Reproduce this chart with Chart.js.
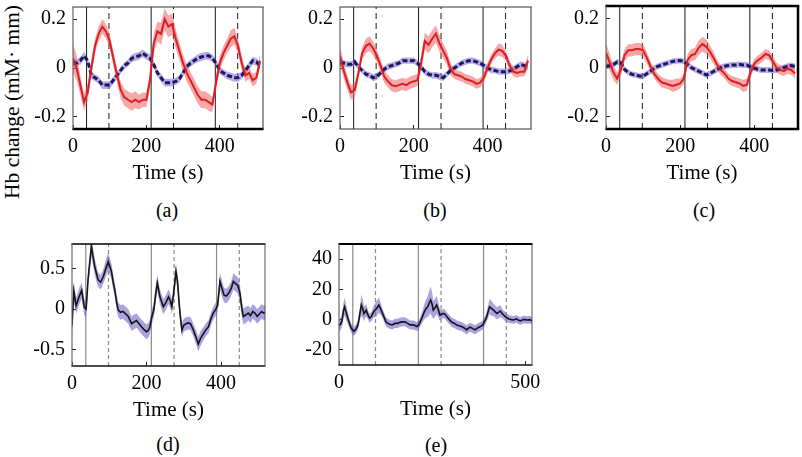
<!DOCTYPE html>
<html><head><meta charset="utf-8">
<script src="https://cdn.jsdelivr.net/npm/chart.js@4.4.1/dist/chart.umd.min.js"></script>
<style>
html,body{margin:0;padding:0;width:802px;height:457px;overflow:hidden;background:#fff;position:relative;}
canvas{position:absolute;}
.lbl{position:absolute;font-family:"Liberation Serif","Times New Roman",serif;color:#000;white-space:nowrap;line-height:1;transform:translate(-50%,-50%);}
</style></head><body>
<div class="lbl" style="left:13px;top:102px;font-size:21.5px;transform:translate(-50%,-50%) rotate(-90deg);">Hb change (mM· mm)</div>
<div class="lbl" style="left:167px;top:210px;font-size:20px;">(a)</div>
<div class="lbl" style="left:435px;top:210px;font-size:20px;">(b)</div>
<div class="lbl" style="left:704px;top:210px;font-size:20px;">(c)</div>
<div class="lbl" style="left:168px;top:444px;font-size:20px;">(d)</div>
<div class="lbl" style="left:436px;top:445px;font-size:20px;">(e)</div>
<canvas id="ca"></canvas><canvas id="cb"></canvas><canvas id="cc"></canvas><canvas id="cd"></canvas><canvas id="ce"></canvas>
<script>
// ---------------- data ----------------
const timeABC = [0,10,20,30,40,50,60,70,80,90,100,110,120,130,140,150,160,170,180,190,200,210,220,230,240,250,260,270,280,290,300,310,320,330,340,350,360,370,380,390,400,410,420,430,440,450,460,470,480,490,500,510];
const onsets = [37, 213, 388];
const offsets = [98, 274, 449];

const redA = [0.04,0.00,-0.07,-0.14,-0.10,0.00,0.09,0.14,0.17,0.15, 0.11,0.04,-0.03,-0.09,-0.12,-0.13,-0.14,-0.13,-0.14,-0.13, -0.13,-0.05,0.10,0.15,0.14,0.20,0.17,0.18,0.12,0.07, 0.02,-0.02,-0.05,-0.08,-0.11,-0.13,-0.13,-0.14,-0.15,-0.06, 0.02,0.06,0.09,0.12,0.13,0.09,0.02,-0.03,-0.02,-0.05, -0.04,0.03];
const errRedA = [0.06,0.05,0.04,0.035,0.035,0.035,0.03,0.03,0.03,0.03, 0.03,0.03,0.03,0.035,0.035,0.035,0.035,0.035,0.03,0.03, 0.03,0.035,0.04,0.04,0.045,0.045,0.045,0.045,0.04,0.035, 0.035,0.035,0.035,0.035,0.035,0.035,0.035,0.035,0.03,0.03, 0.03,0.03,0.03,0.035,0.035,0.03,0.03,0.025,0.025,0.025, 0.025,0.025];
const blueA = [0.02,0.02,0.03,0.05,0.03,-0.03,-0.04,-0.05,-0.07,-0.07, -0.07,-0.05,-0.03,-0.01,0.01,0.02,0.04,0.045,0.05,0.06, 0.05,0.04,0.015,-0.02,-0.04,-0.06,-0.06,-0.06,-0.055,-0.045, -0.02,0.005,0.02,0.03,0.04,0.045,0.05,0.05,0.04,0.02, -0.01,-0.02,-0.03,-0.035,-0.04,-0.04,-0.03,-0.01,0.01,0.03, 0.025,0.01];
const errBlueA = [0.015,0.015,0.016,0.016,0.015,0.015,0.014,0.015,0.016,0.016, 0.016,0.015,0.015,0.014,0.014,0.015,0.015,0.016,0.016,0.016, 0.016,0.015,0.015,0.015,0.016,0.016,0.016,0.016,0.015,0.015, 0.014,0.014,0.015,0.015,0.016,0.016,0.016,0.016,0.015,0.015, 0.015,0.015,0.016,0.016,0.016,0.016,0.015,0.015,0.015,0.016, 0.016,0.016];

const redB = [0.05,-0.01,-0.06,-0.10,-0.09,-0.02,0.06,0.09,0.10,0.08, 0.05,0.01,-0.035,-0.055,-0.07,-0.075,-0.07,-0.065,-0.07,-0.06, -0.055,-0.05,0.02,0.11,0.095,0.12,0.14,0.10,0.07,0.04, -0.005,-0.025,-0.03,-0.035,-0.045,-0.05,-0.055,-0.065,-0.06,-0.04, 0.0,0.035,0.06,0.075,0.07,0.05,0.01,-0.015,-0.02,-0.015, -0.015,0.03];
const errRedB = [0.04,0.03,0.03,0.03,0.03,0.025,0.025,0.03,0.03,0.03, 0.025,0.025,0.025,0.025,0.025,0.025,0.025,0.025,0.025,0.025, 0.025,0.025,0.03,0.035,0.035,0.035,0.035,0.035,0.03,0.03, 0.025,0.02,0.02,0.02,0.02,0.02,0.02,0.02,0.02,0.02, 0.02,0.02,0.02,0.025,0.025,0.02,0.02,0.02,0.02,0.02, 0.02,0.025];
const blueB = [0.02,0.02,0.015,0.015,0.025,0.005,-0.01,-0.025,-0.03,-0.04, -0.035,-0.02,-0.005,0.005,0.01,0.015,0.02,0.03,0.03,0.03, 0.03,0.02,0.005,-0.015,-0.025,-0.03,-0.03,-0.035,-0.04,-0.025, -0.01,0.0,0.01,0.02,0.025,0.03,0.03,0.025,0.02,0.01, 0.0,-0.007,-0.01,-0.015,-0.015,-0.015,-0.012,-0.005,0.005,0.015, 0.01,0.005];
const errBlueB = [0.013,0.013,0.013,0.013,0.013,0.013,0.013,0.013,0.013,0.014, 0.014,0.013,0.013,0.013,0.013,0.013,0.013,0.013,0.013,0.013, 0.013,0.013,0.013,0.013,0.013,0.013,0.014,0.014,0.013,0.013, 0.013,0.013,0.013,0.013,0.013,0.013,0.013,0.013,0.013,0.013, 0.013,0.013,0.013,0.013,0.013,0.013,0.013,0.013,0.013,0.013, 0.013,0.013];

const redC = [0.06,0.02,-0.02,-0.045,-0.01,0.05,0.07,0.07,0.075,0.075, 0.07,0.04,0.005,-0.025,-0.045,-0.06,-0.065,-0.07,-0.075,-0.07, -0.065,-0.045,0.03,0.05,0.055,0.08,0.095,0.085,0.065,0.04, 0.01,-0.01,-0.025,-0.045,-0.055,-0.06,-0.065,-0.075,-0.07,-0.02, 0.015,0.03,0.04,0.055,0.05,0.025,0.0,-0.01,-0.015,-0.005, -0.01,-0.025];
const errRedC = [0.04,0.035,0.03,0.025,0.025,0.025,0.025,0.025,0.025,0.025, 0.025,0.025,0.02,0.02,0.02,0.02,0.02,0.02,0.025,0.025, 0.02,0.02,0.025,0.025,0.025,0.03,0.03,0.03,0.025,0.025, 0.02,0.02,0.02,0.02,0.02,0.02,0.02,0.025,0.025,0.02, 0.02,0.02,0.02,0.02,0.02,0.02,0.02,0.02,0.02,0.02, 0.02,0.02];
const blueC = [0.005,0.008,0.012,0.022,0.02,-0.008,-0.02,-0.028,-0.03,-0.035, -0.036,-0.025,-0.015,-0.003,0.005,0.01,0.015,0.02,0.025,0.027, 0.028,0.025,0.012,0.0,-0.008,-0.015,-0.022,-0.03,-0.025,-0.016, -0.008,0.0,0.005,0.008,0.01,0.01,0.012,0.01,0.01,0.003, -0.003,-0.007,-0.01,-0.01,-0.01,-0.012,-0.01,-0.006,0.0,0.005, 0.008,0.004];
const errBlueC = [0.012,0.012,0.012,0.012,0.012,0.012,0.012,0.012,0.012,0.012, 0.012,0.012,0.012,0.012,0.012,0.012,0.012,0.012,0.012,0.012, 0.012,0.012,0.012,0.012,0.012,0.012,0.012,0.012,0.012,0.012, 0.012,0.012,0.012,0.012,0.012,0.012,0.012,0.012,0.012,0.012, 0.012,0.012,0.012,0.012,0.012,0.012,0.012,0.012,0.012,0.012, 0.012,0.012];

const timeD = [0,5,11,18,26,33,38,43,52,61,70,77,84,91,97,102,106,111,115,120,124,130,137,144,151,156,160,166,173,180,187,193,200,205,209,214,220,225,229,236,245,252,259,264,268,273,279,283,287,291,295,300,306,312,318,326,333,339,345,353,360,366,373,379,386,391,397,403,408,414,420,427,433,440,445,451,456,460,467,473,479,485,491,497,503,509,515,518];
const valD = [-0.2,0.22,0.04,0.14,0.23,0.02,0.0,0.36,0.77,0.52, 0.36,0.33,0.40,0.50,0.58,0.52,0.46,0.32,0.23,0.08, -0.01,-0.04,-0.03,-0.06,-0.09,-0.14,-0.18,-0.16,-0.14,-0.18, -0.22,-0.25,-0.28,-0.26,-0.22,-0.10,0.0,0.20,0.32,0.15, 0.03,0.08,0.15,0.10,0.03,0.20,0.46,0.35,0.10,-0.10, -0.26,-0.20,-0.18,-0.17,-0.18,-0.26,-0.35,-0.43,-0.36,-0.30, -0.25,-0.22,-0.12,-0.05,0.0,0.05,0.34,0.25,0.17,0.16, 0.19,0.25,0.34,0.31,0.29,0.19,0.0,-0.09,-0.07,-0.05, -0.08,-0.03,-0.05,-0.09,-0.06,-0.03,-0.05,-0.04];
const errD = [0.1,0.12,0.1,0.1,0.1,0.1,0.1,0.1,0.12,0.1, 0.09,0.09,0.09,0.1,0.11,0.1,0.1,0.09,0.09,0.09, 0.09,0.09,0.09,0.09,0.09,0.09,0.09,0.09,0.09,0.09, 0.09,0.09,0.09,0.09,0.09,0.09,0.09,0.1,0.1,0.09, 0.09,0.09,0.09,0.09,0.09,0.09,0.1,0.1,0.09,0.09, 0.09,0.08,0.08,0.08,0.08,0.08,0.09,0.09,0.09,0.08, 0.08,0.08,0.08,0.08,0.08,0.08,0.1,0.1,0.09,0.09, 0.09,0.09,0.1,0.1,0.1,0.1,0.1,0.1,0.1,0.09, 0.09,0.09,0.09,0.09,0.09,0.09,0.09,0.09];

const timeE = [0,4,8,12,15,19,24,29,33,40,46,51,56,60,64,67,70,73,78,82,87,93,100,107,112,117,122,126,131,136,143,150,157,163,170,177,184,191,200,209,214,218,224,229,233,238,242,246,250,253,258,262,266,271,276,280,285,289,296,303,310,316,322,329,336,343,348,352,358,365,372,379,386,391,395,400,404,409,415,420,424,429,433,438,442,449,456,463,469,476,482,487,494,500,505,512,518];
const valE = [-4,-3,-1,6,8.5,5,0.8,-3,-5.7,-7.9, -6,-3.5,4,9.6,7,4,5,6.3,3,1, 2,5.2,7,9.6,7,4,1,-1.4,-2.5,-3, -3.5,-2.5,-2.5,-1.8,-1.5,-1.4,-2.5,-3.5,-3.5,-4.6, -3.5,-1.4,2,5.2,7,8.5,11,12.9,10,6.3, 8,9.6,7,3,3.5,4.1,3.5,2,0,-1.8, -2.5,-3.5,-4,-4.6,-5.5,-6.8,-5.5,-5,-5.8,-6.8, -5.5,-4.6,-3.5,-1,0.8,5,8.5,7.5,6.3,5, 4.1,5,5.6,4,3,1.5,0.4,0,-0.2,0.5, -0.5,-0.9,0,0,-0.2,0,-0.9];
const errE = [4,4,4,5,6,5,4,3,3,3, 3,3,4,7,6,5,4,4,3,3, 3,4,5,5,4,3,3,3,3,3, 3,3,3,3,3,3,3,3,3,3, 3,3,4,5,6,7,8,9,8,6, 6,6,5,4,3,3,3,3,3,3, 3,3,3,3,3,3,3,3,3,3, 3,3,3,3,3,4,5,5,4,4, 4,4,4,3,3,3,2.5,2.5,2.5,2.5, 2.5,2.5,2.5,2.5,2.5,2.5,2.5];

const xTicksABCD = [0,200,400];
const xTicksE = [0,500];
const yTicksABC = [-0.2,0,0.2];
const yTicksD = [-0.5,0,0.5];
const yTicksE = [-20,0,20,40];

// ---------------- rendering ----------------
const FAMILY = "'Liberation Serif', 'Times New Roman', serif";
Chart.defaults.font.family = FAMILY;
Chart.defaults.color = '#000';

const RED = 'rgb(222,30,34)', RED_BAND = 'rgba(236,96,96,0.55)';
const NAVY = 'rgb(24,24,100)', NAVY_BAND = 'rgba(128,108,205,0.55)';
const BLACK = '#151515', LAV_BAND = 'rgba(112,102,205,0.6)';

const boxPlugin = {
  id: 'box',
  afterDatasetsDraw(chart, args, o) {
    const {left, top, right, bottom} = chart.chartArea;
    const ctx = chart.ctx;
    ctx.save();
    const side = (w, c, x1, y1, x2, y2) => { if (!w) return; ctx.lineWidth = w; ctx.strokeStyle = c; ctx.beginPath(); ctx.moveTo(x1, y1); ctx.lineTo(x2, y2); ctx.stroke(); };
    side(o.t, o.tc, left - o.l / 2, top, right + o.r / 2, top);
    side(o.b, o.bc, left - o.l / 2, bottom, right + o.r / 2, bottom);
    side(o.l, o.lc, left, top, left, bottom);
    side(o.r, o.rc, right, top, right, bottom);
    ctx.restore();
  }
};

function band(xs, mean, err, fillColor, lineColor, width, dash, ord) {
  return [
    {data: xs.map((x, i) => ({x, y: mean[i] + err[i]})), fill: '+1', backgroundColor: fillColor, borderWidth: 0, pointRadius: 0, order: 5},
    {data: xs.map((x, i) => ({x, y: mean[i] - err[i]})), fill: false, borderWidth: 0, pointRadius: 0, order: 5},
    {data: xs.map((x, i) => ({x, y: mean[i]})), fill: false, borderColor: lineColor, borderWidth: width, borderDash: dash, pointRadius: 0, order: ord, tension: 0}
  ];
}
function markers(times, yMin, yMax, color, dash, width) {
  return {data: times.flatMap(t => [{x: t, y: yMin}, {x: t, y: yMax}, {x: t, y: null}]), spanGaps: false, fill: false,
          borderColor: color, borderWidth: width, borderDash: dash, pointRadius: 0, order: 8};
}

const XMAX = 518, YAX = 70, PT = 30, PR = 20, XAXH = 57;
function panel(id, L, T, R, B, xMax, yMin, yMax, xTicks, yTicks, datasets, box) {
  const cv = document.getElementById(id);
  const w = Math.round(YAX + (R - L) + PR), h = Math.round(PT + (B - T) + XAXH);
  cv.width = w; cv.height = h;
  cv.style.left = (L - YAX) + 'px'; cv.style.top = (T - PT) + 'px';
  cv.style.width = w + 'px'; cv.style.height = h + 'px';
  const tickGrid = {display: true, drawOnChartArea: false, drawTicks: true, tickLength: -4, color: '#222', lineWidth: 1};
  new Chart(cv, {
    type: 'line',
    data: {datasets},
    options: {
      responsive: false, animation: false, devicePixelRatio: 1,
      layout: {padding: {left: 0, top: PT, right: PR, bottom: 0}},
      plugins: {legend: {display: false}, tooltip: {enabled: false}, box},
      scales: {
        x: {type: 'linear', min: 0, max: xMax,
            afterBuildTicks: s => { s.ticks = xTicks.map(v => ({value: v})); },
            afterFit: s => { s.height = XAXH; },
            grid: tickGrid, border: {display: false},
            ticks: {padding: 9.7, font: {family: FAMILY, size: 20}, maxRotation: 0, autoSkip: false, callback: v => String(v)},
            title: {display: true, text: 'Time (s)', font: {family: FAMILY, size: 21}, padding: 0}},
        y: {type: 'linear', min: yMin, max: yMax,
            afterBuildTicks: s => { s.ticks = yTicks.map(v => ({value: v})); },
            afterFit: s => { s.width = YAX; },
            grid: tickGrid, border: {display: false},
            ticks: {padding: 11, font: {family: FAMILY, size: 20}, autoSkip: false, callback: v => String(v)}}
      }
    },
    plugins: [boxPlugin]
  });
}

function abcSets(red, errRed, blue, errBlue, yMin, yMax) {
  return [
    ...band(timeABC, red, errRed, RED_BAND, RED, 2, [], 0),
    ...band(timeABC, blue, errBlue, NAVY_BAND, NAVY, 3, [5, 2.5], 1),
    markers(onsets, yMin, yMax, '#1a1a1a', [], 1),
    markers(offsets, yMin, yMax, '#1a1a1a', [6, 4], 1)
  ];
}

panel('ca', 73, 7, 263, 129, XMAX, -0.25, 0.25, xTicksABCD, yTicksABC,
  abcSets(redA, errRedA, blueA, errBlueA, -0.25, 0.25),
  {t: 1, tc: '#333', r: 1, rc: '#333', b: 2.5, bc: '#000', l: 1.2, lc: '#666'});
panel('cb', 340, 7, 531, 129, XMAX, -0.25, 0.25, xTicksABCD, yTicksABC,
  abcSets(redB, errRedB, blueB, errBlueB, -0.25, 0.25),
  {t: 1, tc: '#333', r: 1, rc: '#333', b: 1, bc: '#333', l: 1.2, lc: '#666'});
panel('cc', 606, 6, 798, 129, XMAX, -0.25, 0.25, xTicksABCD, yTicksABC,
  abcSets(redC, errRedC, blueC, errBlueC, -0.25, 0.25),
  {t: 2.5, tc: '#000', r: 2.5, rc: '#000', b: 2.5, bc: '#000', l: 1.2, lc: '#666'});
panel('cd', 72, 244, 265, 366, XMAX, -0.7, 0.8, xTicksABCD, yTicksD, [
    ...band(timeD, valD, errD, LAV_BAND, BLACK, 1.6, [], 0),
    markers(onsets, -0.7, 0.8, '#8a8a8a', [], 1.2),
    markers(offsets, -0.7, 0.8, '#8a8a8a', [4, 3], 1.2)
  ],
  {t: 1.5, tc: '#000', r: 1, rc: '#555', b: 1.5, bc: '#111', l: 1.2, lc: '#666'});
panel('ce', 339, 244, 532, 365, XMAX, -30, 50, xTicksE, yTicksE, [
    ...band(timeE, valE, errE, LAV_BAND, BLACK, 1.6, [], 0),
    markers(onsets, -30, 50, '#8a8a8a', [], 1.2),
    markers(offsets, -30, 50, '#8a8a8a', [4, 3], 1.2)
  ],
  {t: 2, tc: '#000', r: 1, rc: '#555', b: 1.5, bc: '#111', l: 1.2, lc: '#666'});
</script>
</body></html>
